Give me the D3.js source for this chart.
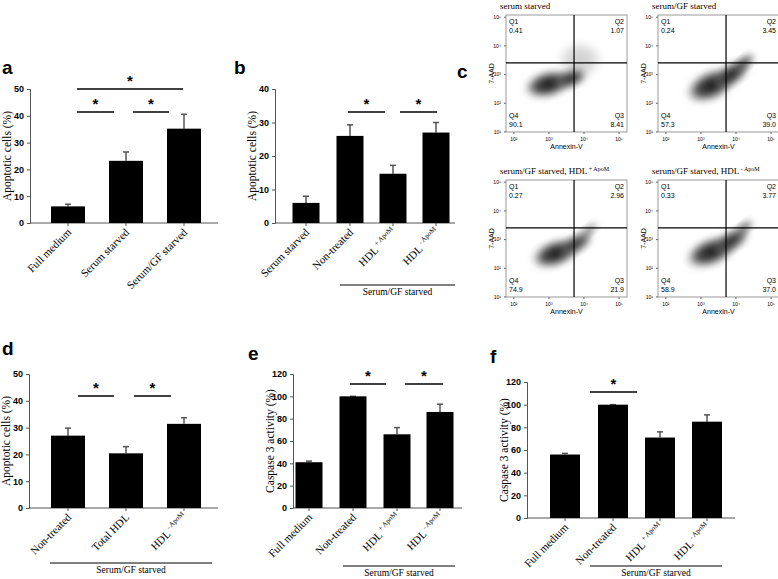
<!DOCTYPE html><html><head><meta charset="utf-8">
<script src="https://cdn.jsdelivr.net/npm/d3@7"></script>
<style>body{margin:0;background:#fff}text{fill:#000}</style></head><body>
<svg id="c" width="778" height="579"></svg>
<script>
// ---- data ----
const aCats=["Full medium","Serum starved","Serum/GF starved"];
const aVals=[6.2,23.2,35.2], aErr=[0.8,3.3,5.4];
const bCats=["Serum starved","Non-treated","HDL+","HDL-"];
const bVals=[6,26,14.7,27], bErr=[2,3.3,2.5,3];
const dCats=["Non-treated","Total HDL","HDL-"];
const dVals=[27,20.4,31.4], dErr=[2.8,2.5,2.3];
const eCats=["Full medium","Non-treated","HDL+","HDL-"];
const eVals=[41,100,66,86], eErr=[1,0,6,7];
const fVals=[56,100,71,85], fErr=[1,0,5,6];
const flowTitles=["serum starved","serum/GF starved","serum/GF starved, HDL+","serum/GF starved, HDL-"];
const flowQ=[["0.41","1.07","90.1","8.41"],["0.24","3.45","57.3","39.0"],["0.27","2.96","74.9","21.9"],["0.33","3.77","58.9","37.0"]];
// blobs: [log x, log y, rx (decades), ry, angle, opacity]
const flowBlobs=[
 [[3.0,2.65,0.75,0.5,-15,1],[3.65,2.85,0.5,0.35,-20,0.9],[3.9,3.5,0.7,0.7,0,0.2]],
 [[3.3,2.6,0.8,0.55,-25,1],[3.9,3.0,0.6,0.4,-35,0.95],[4.25,3.4,0.4,0.25,-40,0.7]],
 [[3.2,2.5,0.75,0.5,-20,1],[3.8,2.85,0.55,0.35,-30,0.85],[4.15,3.3,0.35,0.2,-40,0.5]],
 [[3.3,2.55,0.8,0.52,-22,1],[3.9,2.95,0.6,0.38,-32,0.9],[4.25,3.4,0.35,0.22,-40,0.6]]];
const svg=d3.select("#c");
const serif="'Liberation Serif','DejaVu Serif',serif", sans="'Liberation Sans',Arial,sans-serif";
function label(t,x,y){svg.append("text").attr("x",x).attr("y",y).attr("font-family",sans).attr("font-weight","bold").attr("font-size",19).text(t);}
function catText(sel,c){
  const m=c.match(/^HDL([+-])$/);
  if(m){sel.text("HDL");sel.append("tspan").attr("font-size",7).attr("dy",-5).text((m[1]=="+"?" + ":" - ")+"ApoM");}
  else sel.text(c);
}
function bar(o){
  const g=svg.append("g");
  const y=d3.scaleLinear().domain([0,o.max]).range([o.y0,o.y1]);
  const x=d3.scaleOrdinal().domain(o.cats.map((c,i)=>i)).range(o.cx);
  const ax=g.append("g").attr("transform",`translate(${o.x0},0)`).call(d3.axisLeft(y).tickValues(d3.range(0,o.max+1,o.step)).tickSize(3));
  ax.selectAll("text").attr("font-family",sans).attr("font-weight","bold").attr("font-size",9);
  ax.select(".domain").attr("stroke","#555");ax.selectAll("line").attr("stroke","#555");
  g.append("line").attr("x1",o.x0).attr("x2",o.x1).attr("y1",o.y0).attr("y2",o.y0).attr("stroke","#555");
  o.vals.forEach((v,i)=>{
    const cx=x(i);
    g.append("line").attr("x1",cx).attr("x2",cx).attr("y1",y(v)).attr("y2",y(v+o.err[i])).attr("stroke","#555").attr("stroke-width",1.5);
    g.append("line").attr("x1",cx-3).attr("x2",cx+3).attr("y1",y(v+o.err[i])).attr("y2",y(v+o.err[i])).attr("stroke","#555").attr("stroke-width",1.5);
    g.append("rect").attr("x",cx-o.bw/2).attr("width",o.bw).attr("y",y(v)).attr("height",o.y0-y(v)).attr("fill","#000");
    g.append("line").attr("x1",cx).attr("x2",cx).attr("y1",o.y0).attr("y2",o.y0+3).attr("stroke","#555");
    const t=g.append("text").attr("font-family",serif).attr("font-size",11).attr("text-anchor","end")
      .attr("transform",`translate(${cx+4},${o.y0+10}) rotate(-45)`);
    catText(t,o.cats[i]);
  });
  g.append("text").attr("font-family",serif).attr("font-size",11.5).attr("text-anchor","middle")
   .attr("transform",`translate(${o.x0-19},${(o.y0+o.y1)/2}) rotate(-90)`).text(o.title);
  (o.sig||[]).forEach(s=>{
    g.append("line").attr("x1",s[0]).attr("x2",s[1]).attr("y1",s[2]).attr("y2",s[2]).attr("stroke","#000").attr("stroke-width",1.3);
    g.append("text").attr("x",(s[0]+s[1])/2).attr("y",s[2]-3).attr("text-anchor","middle").attr("font-family",sans).attr("font-weight","bold").attr("font-size",15).text("*");
  });
  if(o.grp){
    g.append("line").attr("x1",o.grp[0]).attr("x2",o.grp[1]).attr("y1",o.grp[2]).attr("y2",o.grp[2]).attr("stroke","#000");
    g.append("text").attr("x",(o.grp[0]+o.grp[1])/2).attr("y",o.grp[2]+10).attr("text-anchor","middle").attr("font-family",serif).attr("font-size",9.5).text("Serum/GF starved");
  }
}
label("a",2,74);label("b",234,74);label("c",457,78);label("d",2,355);label("e",248,360);label("f",490,363);
bar({cats:aCats,vals:aVals,err:aErr,max:50,step:10,x0:30,x1:218,y0:223,y1:89,cx:[68,126,184],bw:34,title:"Apoptotic cells (%)",
  sig:[[77,114,112],[133,169,112],[77,183,89]]});
bar({cats:bCats,vals:bVals,err:bErr,max:40,step:10,x0:275,x1:455,y0:223,y1:89,cx:[306,350,393,436],bw:27,title:"Apoptotic cells (%)",
  sig:[[348,385,112],[400,437,112]],grp:[340,455,285]});
bar({cats:dCats,vals:dVals,err:dErr,max:50,step:10,x0:29,x1:218,y0:508,y1:374,cx:[68,126,184],bw:34,title:"Apoptotic cells (%)",
  sig:[[78,114,396],[134,171,396]],grp:[50,212,563]});
bar({cats:eCats,vals:eVals,err:eErr,max:120,step:20,x0:293,x1:462,y0:508,y1:374,cx:[309,353,397,440],bw:27,title:"Caspase 3 activity (%)",
  sig:[[350,386,384],[405,443,384]],grp:[343,455,566]});
bar({cats:eCats,vals:fVals,err:fErr,max:120,step:20,x0:527,x1:735,y0:518,y1:382,cx:[565,613,660,707],bw:30,title:"Caspase 3 activity (%)",
  sig:[[590,637,392]],grp:[590,722,566]});
// flow plots
const defs=svg.append("defs");
defs.append("filter").attr("id","bl").append("feGaussianBlur").attr("stdDeviation",3);
const rg=defs.append("radialGradient").attr("id","rg");
rg.append("stop").attr("offset","0%").attr("stop-color","#111");
rg.append("stop").attr("offset","55%").attr("stop-color","#333").attr("stop-opacity",0.85);
rg.append("stop").attr("offset","100%").attr("stop-color","#999").attr("stop-opacity",0);
const boxes=[[506,15],[658,15],[506,180],[658,180]];
boxes.forEach((b,k)=>{
  const W=121,H=117;
  const g=svg.append("g");
  const x=d3.scaleLog().domain([Math.pow(10,1.79),Math.pow(10,5.24)]).range([b[0],b[0]+W]);
  const y=d3.scaleLog().domain([Math.pow(10,0.98),Math.pow(10,5.06)]).range([b[1]+H,b[1]]);
  const cp="cp"+k;
  defs.append("clipPath").attr("id",cp).append("rect").attr("x",b[0]).attr("y",b[1]).attr("width",W).attr("height",H);
  const bg=g.append("g").attr("clip-path",`url(#${cp})`);
  flowBlobs[k].forEach(e=>{
    const cx=x(Math.pow(10,e[0])),cy=y(Math.pow(10,e[1]));
    const rx=x(Math.pow(10,e[0]+e[2]))-cx, ry=cy-y(Math.pow(10,e[1]+e[3]));
    bg.append("ellipse").attr("cx",cx).attr("cy",cy).attr("rx",rx).attr("ry",ry).attr("fill","url(#rg)").attr("opacity",e[5])
      .attr("transform",`rotate(${e[4]},${cx},${cy})`).attr("filter","url(#bl)");
  });
  g.append("rect").attr("x",b[0]).attr("y",b[1]).attr("width",W).attr("height",H).attr("fill","none").attr("stroke","#999");
  const vx=x(Math.pow(10,3.73)), hy=y(Math.pow(10,3.39));
  g.append("line").attr("x1",vx).attr("x2",vx).attr("y1",b[1]).attr("y2",b[1]+H).attr("stroke","#000").attr("stroke-width",1.2);
  g.append("line").attr("x1",b[0]).attr("x2",b[0]+W).attr("y1",hy).attr("y2",hy).attr("stroke","#000").attr("stroke-width",1.2);
  const xa=g.append("g").attr("transform",`translate(0,${b[1]+H})`).call(d3.axisBottom(x).tickValues([1e2,1e3,1e4,1e5]).tickSize(2).tickFormat(d=>"10"+["²","³","⁴","⁵"][Math.log10(d)-2]));
  const ya=g.append("g").attr("transform",`translate(${b[0]},0)`).call(d3.axisLeft(y).tickValues([1e1,1e2,1e3,1e4,1e5]).tickSize(2).tickFormat(d=>"10"+["¹","²","³","⁴","⁵"][Math.log10(d)-1]));
  [xa,ya].forEach(a=>{a.select(".domain").remove();a.selectAll("text").attr("font-family",sans).attr("font-size",5).attr("fill","#444");a.selectAll("line").attr("stroke","#666");});
  g.append("text").attr("x",b[0]+W/2).attr("y",b[1]+H+17).attr("text-anchor","middle").attr("font-family",sans).attr("font-size",7).text("Annexin-V");
  g.append("text").attr("transform",`translate(${b[0]-12},${b[1]+H/2}) rotate(-90)`).attr("text-anchor","middle").attr("font-family",sans).attr("font-size",7).text("7-AAD");
  const q=flowQ[k], fs=7;
  const qt=(t,xx,yy,an)=>g.append("text").attr("x",xx).attr("y",yy).attr("text-anchor",an).attr("font-family",sans).attr("font-size",fs).attr("fill","#222").text(t);
  qt("Q1",b[0]+3,b[1]+9,"start");qt(q[0],b[0]+3,b[1]+18,"start");
  qt("Q2",b[0]+W-3,b[1]+9,"end");qt(q[1],b[0]+W-3,b[1]+18,"end");
  qt("Q4",b[0]+3,b[1]+H-14,"start");qt(q[2],b[0]+3,b[1]+H-5,"start");
  qt("Q3",b[0]+W-3,b[1]+H-14,"end");qt(q[3],b[0]+W-3,b[1]+H-5,"end");
  const tt=g.append("text").attr("x",b[0]-6).attr("y",b[1]-6).attr("font-family",serif).attr("font-size",9);
  const m=flowTitles[k].match(/^(.*HDL)([+-])$/);
  if(m){tt.text(m[1]);tt.append("tspan").attr("font-size",6).attr("dy",-3).text((m[2]=="+"?" + ":" - ")+"ApoM");}
  else tt.text(flowTitles[k]);
});
</script></body></html>
